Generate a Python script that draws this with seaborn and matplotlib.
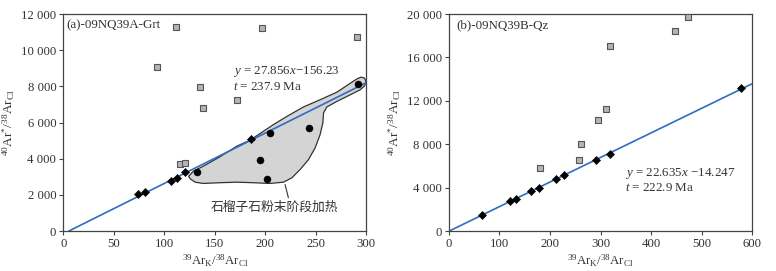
import numpy as np
import pandas as pd
import matplotlib
matplotlib.use('Agg')
import matplotlib.pyplot as plt
from matplotlib.ticker import FuncFormatter
import seaborn as sns

# Panel (a) 09NQ39A garnet
a_dia_x = [74, 81, 107, 112.6, 120.6, 185.7]
a_dia_y = [2020, 2170, 2760, 2940, 3250, 5090]
a_cir_x = [132, 195, 201.5, 204.5, 243, 292]
a_cir_y = [3250, 3900, 2850, 5420, 5700, 8120]
a_sq_x = [111.7, 93, 135.5, 138.7, 171.8, 115.6, 121, 197, 290.7]
a_sq_y = [11300, 9060, 7980, 6800, 7220, 3690, 3750, 11230, 10720]
a_slope, a_icpt = 27.856, -156.23

# outline of the step-heating field (hand traced)
blob_x = [124.9, 128.8, 138.7, 155, 171.8, 185, 198, 208, 221.5, 237.8, 254.4, 271,
          284.4, 291, 294.9, 298.2, 299.8, 298.4, 294, 284.4, 271, 261, 257.7, 257,
          254.3, 249.4, 242.8, 234.5, 226.3, 218, 204.8, 188, 171.8, 155, 138.7,
          130.5, 125.6, 124.2]
blob_y = [3070, 3310, 3585, 4100, 4690, 5020, 5510, 5880, 6340, 6860, 7260, 7680,
          8180, 8420, 8510, 8460, 8270, 8030, 7810, 7540, 7170, 6860, 6530, 5970,
          5330, 4600, 3950, 3400, 2940, 2700, 2630, 2670, 2700, 2670, 2630,
          2700, 2890, 3030]

# Panel (b) 09NQ39B quartz
b_dia_x = [66, 120.8, 132, 163, 178, 212, 227.7, 290.4, 318, 579]
b_dia_y = [1470, 2730, 2910, 3700, 3980, 4780, 5150, 6520, 7140, 13170]
b_sq_x = [258, 260.7, 179.5, 296, 311.5, 319.5, 448, 473]
b_sq_y = [6520, 8050, 5850, 10260, 11240, 17060, 18440, 19690]
b_slope, b_icpt = 22.635, -14.247

sns.set_theme(style='ticks')
plt.rcParams['font.family'] = ['Liberation Serif', 'Noto Sans CJK SC', 'DejaVu Sans']
plt.rcParams['mathtext.fontset'] = 'custom'
plt.rcParams['mathtext.rm'] = 'Liberation Serif'
plt.rcParams['mathtext.it'] = 'Liberation Serif:italic'
plt.rcParams['axes.edgecolor'] = '#444444'
plt.rcParams['xtick.color'] = '#444444'
plt.rcParams['ytick.color'] = '#444444'

grey_txt = '#333333'
line_col = '#2f6dc0'
fs = 9.2

def make_df(dia_x, dia_y, cir_x, cir_y, sq_x, sq_y):
    rows = []
    for x, y in zip(sq_x, sq_y):
        rows.append(('sq', x, y))
    for x, y in zip(dia_x, dia_y):
        rows.append(('dia', x, y))
    for x, y in zip(cir_x, cir_y):
        rows.append(('cir', x, y))
    return pd.DataFrame(rows, columns=['kind', 'x', 'y'])

fmt = FuncFormatter(lambda v, p: f'{int(v):,}'.replace(',', ' '))

fig = plt.figure(figsize=(7.76, 2.71), dpi=100)
ax1 = fig.add_axes([0.0815, 0.1476, 0.3905, 0.8007])
ax2 = fig.add_axes([0.5786, 0.1476, 0.3905, 0.8007])

# ---- panel a
ax1.fill(blob_x, blob_y, facecolor='#d4d4d4', edgecolor='#333333', lw=0.9, zorder=1)
lx = np.array([-a_icpt / a_slope, 300])
sns.lineplot(x=lx, y=a_slope * lx + a_icpt, ax=ax1, color=line_col, lw=1.2, zorder=2)
df_a = make_df(a_dia_x, a_dia_y, a_cir_x, a_cir_y, a_sq_x, a_sq_y)
sns.scatterplot(data=df_a[df_a.kind == 'sq'], x='x', y='y', ax=ax1, marker='s', s=22,
                color='#b4b4b4', edgecolor='#555555', linewidth=0.8, zorder=3)
sns.scatterplot(data=df_a[df_a.kind == 'dia'], x='x', y='y', ax=ax1, marker='D', s=18,
                color='black', edgecolor='black', linewidth=0.3, zorder=4)
sns.scatterplot(data=df_a[df_a.kind == 'cir'], x='x', y='y', ax=ax1, marker='o', s=26,
                color='black', edgecolor='black', linewidth=0.3, zorder=4)
ax1.plot([219.6, 222.9], [2570, 1840], color='#333333', lw=0.8)
ax1.text(209, 1290, '石榴子石粉末阶段加热', ha='center', va='center', fontsize=9.2,
         family=['Noto Sans CJK SC', 'DejaVu Sans'], color=grey_txt)
ax1.text(168.5, 8820, '$y$ = 27.856$x$−156.23', fontsize=fs + 0.2, va='center', color=grey_txt)
ax1.text(168.5, 7960, '$t$ = 237.9 Ma', fontsize=fs + 0.2, va='center', color=grey_txt)
ax1.text(0.009, 0.975, '(a)-09NQ39A-Grt', transform=ax1.transAxes, fontsize=fs + 0.2,
         ha='left', va='top', color=grey_txt)
ax1.set_xlim(0, 300)
ax1.set_ylim(0, 12000)
ax1.set_xticks([0, 50, 100, 150, 200, 250, 300])
ax1.set_yticks([0, 2000, 4000, 6000, 8000, 10000, 12000])

# ---- panel b
lx = np.array([0, 600])
sns.lineplot(x=lx, y=b_slope * lx + b_icpt, ax=ax2, color=line_col, lw=1.2, zorder=2)
df_b = make_df(b_dia_x, b_dia_y, [], [], b_sq_x, b_sq_y)
sns.scatterplot(data=df_b[df_b.kind == 'sq'], x='x', y='y', ax=ax2, marker='s', s=22,
                color='#b4b4b4', edgecolor='#555555', linewidth=0.8, zorder=3)
sns.scatterplot(data=df_b[df_b.kind == 'dia'], x='x', y='y', ax=ax2, marker='D', s=18,
                color='black', edgecolor='black', linewidth=0.3, zorder=4)
ax2.text(349, 5300, '$y$ = 22.635$x$ −14.247', fontsize=fs + 0.2, va='center', color=grey_txt)
ax2.text(349, 3980, '$t$ = 222.9 Ma', fontsize=fs + 0.2, va='center', color=grey_txt)
ax2.text(0.026, 0.975, '(b)-09NQ39B-Qz', transform=ax2.transAxes, fontsize=fs + 0.2,
         ha='left', va='top', color=grey_txt)
ax2.set_xlim(0, 600)
ax2.set_ylim(0, 20000)
ax2.set_xticks([0, 100, 200, 300, 400, 500, 600])
ax2.set_yticks([0, 4000, 8000, 12000, 16000, 20000])

for ax in (ax1, ax2):
    ax.yaxis.set_major_formatter(fmt)
    ax.tick_params(direction='out', length=3, width=0.8, labelsize=fs, pad=2,
                   labelcolor=grey_txt)
    for sp in ax.spines.values():
        sp.set_visible(True)
        sp.set_linewidth(0.9)
    ax.set_xlabel('$^{39}$Ar$_{\\rm K}$/$^{38}$Ar$_{\\rm Cl}$', fontsize=fs,
                  color=grey_txt, labelpad=2)
    ax.set_ylabel('$^{40}$Ar$^{*}$/$^{38}$Ar$_{\\rm Cl}$', fontsize=fs + 0.3,
                  color=grey_txt, labelpad=3)

fig.savefig('out.png', dpi=100)
